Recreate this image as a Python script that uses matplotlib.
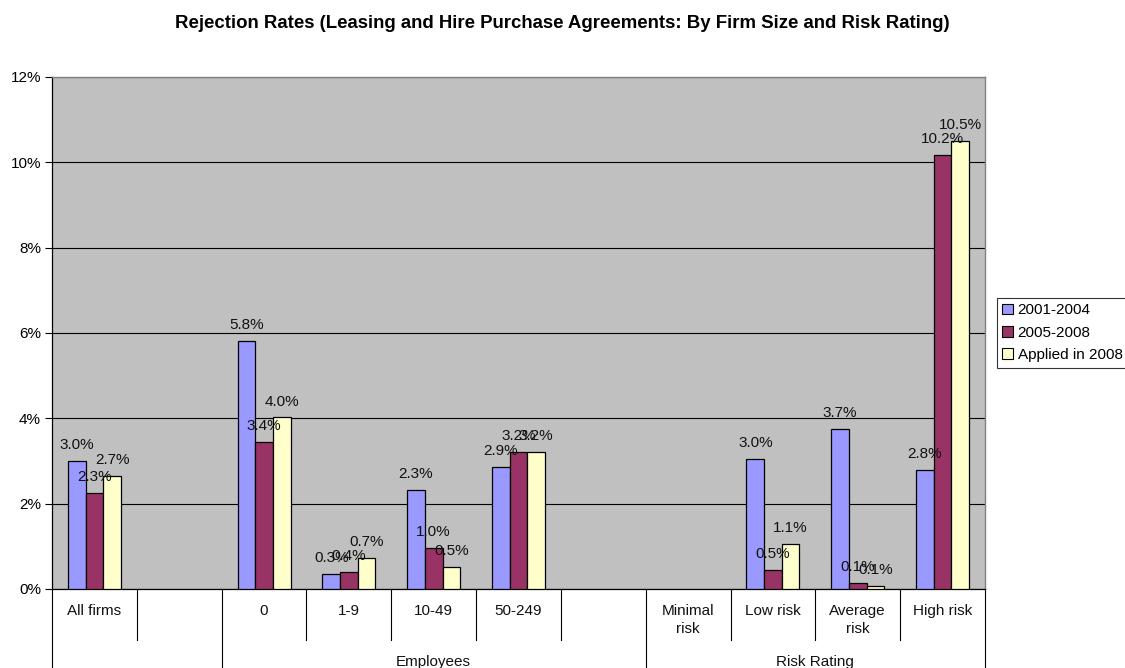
import numpy as np
import matplotlib
matplotlib.use("Agg")
import matplotlib.pyplot as plt
from matplotlib.patches import Patch
from matplotlib.transforms import blended_transform_factory

plt.rcParams['font.family'] = ['Liberation Sans', 'DejaVu Sans']

categories = ["All firms", "", "0", "1-9", "10-49", "50-249", "",
              "Minimal\nrisk", "Low risk", "Average\nrisk", "High risk"]
groups = ["", "Employees", "Risk Rating"]
series = ["2001-2004", "2005-2008", "Applied in 2008"]

# rejection rates in %, None = no bar
r_2001_2004 = [2.99, None, 5.82, 0.35, 2.33, 2.85, None, None, 3.04, 3.74, 2.80]
r_2005_2008 = [2.26, None, 3.44, 0.40, 0.96, 3.20, None, None, 0.45, 0.14, 10.18]
r_applied_2008 = [2.66, None, 4.02, 0.73, 0.52, 3.22, None, None, 1.06, 0.07, 10.49]

colors = ["#9999FF", "#993366", "#FFFFCC"]
fs = 11

W, H = 1125, 668
fig = plt.figure(figsize=(W / 100, H / 100), dpi=100)
ax = fig.add_axes([52 / W, 1 - 589 / H, (985 - 52) / W, (589 - 77) / H])
ax.set_facecolor("#C0C0C0")

x = np.arange(len(categories))
bw = 1 / 4.8
for k, (vals, col) in enumerate(zip([r_2001_2004, r_2005_2008, r_applied_2008], colors)):
    xs = [xi + (k - 1) * bw for xi, v in zip(x, vals) if v is not None]
    ys = [v / 100 for v in vals if v is not None]
    ax.bar(xs, ys, width=bw, color=col, edgecolor="black", linewidth=0.9, zorder=3)
    for xi, yi in zip(xs, ys):
        ax.annotate(f"{yi * 100:.1f}%", (xi, yi), xytext=(0, 11.5), textcoords="offset points",
                    ha="center", va="center", fontsize=fs, color="#111111", zorder=4)

ax.set_xlim(-0.5, len(categories) - 0.5)
ax.set_ylim(0, 0.12)
ax.set_yticks(np.arange(0, 0.121, 0.02))
ax.set_yticklabels([f"{int(round(t * 100))}%" for t in np.arange(0, 0.121, 0.02)], fontsize=fs)
ax.tick_params(axis="y", direction="out", length=5, width=0.8, pad=3)
ax.set_xticks([])
ax.yaxis.grid(True, color="black", linewidth=0.8)
ax.set_axisbelow(True)
for s in ["top", "right"]:
    ax.spines[s].set_color("#808080")
    ax.spines[s].set_linewidth(1.0)
for s in ["left", "bottom"]:
    ax.spines[s].set_color("black")
    ax.spines[s].set_linewidth(0.9)

# category table below the axis
tr = blended_transform_factory(ax.transData, fig.transFigure)
y0 = 1 - 589 / H
short_lines = [0.5, 2.5, 3.5, 4.5, 5.5, 7.5, 8.5, 9.5]
long_lines = [-0.5, 1.5, 6.5, 10.5]
for xb in short_lines:
    ax.plot([xb, xb], [y0, 1 - 640 / H], color="black", linewidth=0.8, transform=tr, clip_on=False)
for xb in long_lines:
    ax.plot([xb, xb], [y0, 0], color="black", linewidth=0.8, transform=tr, clip_on=False)
for xi, lab in zip(x, categories):
    ax.text(xi, 1 - 604 / H, lab, transform=tr, ha="center", va="top", fontsize=fs,
            linespacing=1.4, color="#111111")
group_centers = [0.5, 4.0, 8.5]
for gx, g in zip(group_centers, groups):
    ax.text(gx, 1 - 666 / H, g, transform=tr, ha="center", va="baseline", fontsize=fs,
            color="#111111")

fig.text(0.5, 1 - 23 / H,
         "Rejection Rates (Leasing and Hire Purchase Agreements: By Firm Size and Risk Rating)",
         ha="center", va="center", fontsize=13.4, fontweight="bold")

handles = [Patch(facecolor=c, edgecolor="black", linewidth=0.8) for c in colors]
leg = fig.legend(handles, series, loc="upper left", bbox_to_anchor=(997 / W, 1 - 298 / H),
                 fontsize=fs, frameon=True, fancybox=False, edgecolor="black",
                 handlelength=0.7, handleheight=0.7, handletextpad=0.3,
                 labelspacing=0.55, borderpad=0.35, borderaxespad=0)
leg.get_frame().set_linewidth(0.8)

fig.savefig("out.png", dpi=100)
